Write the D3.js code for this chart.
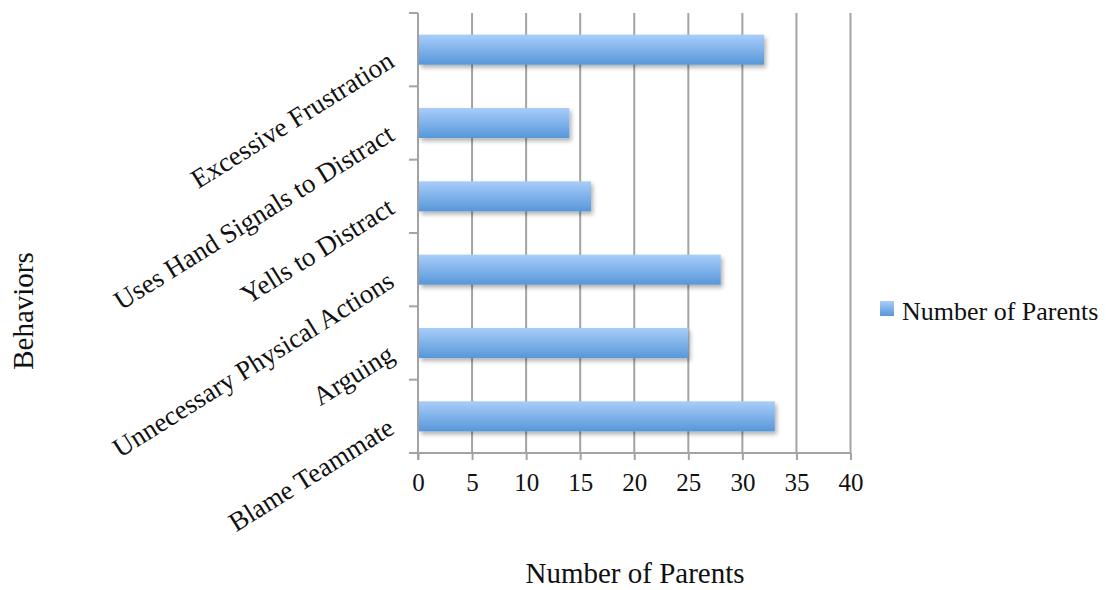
<!DOCTYPE html>
<html>
<head>
<meta charset="utf-8">
<script src="https://cdn.jsdelivr.net/npm/d3@7"></script>
<style>
  html, body { margin: 0; padding: 0; background: #fff; }
  svg { display: block; }
  text { font-family: "Liberation Serif", "Times New Roman", serif; fill: #111; }
</style>
</head>
<body>
<svg id="chart" width="1106" height="590"></svg>
<script>
// Behaviours reported, top to bottom, and how many parents reported each
const categories = [
  "Excessive Frustration",
  "Uses Hand Signals to Distract",
  "Yells to Distract",
  "Unnecessary Physical Actions",
  "Arguing",
  "Blame Teammate"
];
const parents = [32, 14, 16, 28, 25, 33];
const xTicks = [0, 5, 10, 15, 20, 25, 30, 35, 40];
const seriesName = "Number of Parents";
const xTitle = "Number of Parents";
const yTitle = "Behaviors";

const svg = d3.select("#chart");
const plot = { left: 418, right: 850.5, top: 13, bottom: 453 };
const grid = "#a3a3a3";

const x = d3.scaleLinear().domain([0, 40]).range([plot.left, plot.right]);
const y = d3.scaleBand().domain(categories).range([plot.top, plot.bottom])
  .paddingInner(0.59).paddingOuter(0.295);

const defs = svg.append("defs");
const grad = defs.append("linearGradient").attr("id", "barFill")
  .attr("x1", 0).attr("y1", 0).attr("x2", 0).attr("y2", 1);
grad.append("stop").attr("offset", "0%").attr("stop-color", "#a9cdfa");
grad.append("stop").attr("offset", "100%").attr("stop-color", "#5797d9");
const shadow = defs.append("filter").attr("id", "barShadow")
  .attr("x", "-5%").attr("y", "-30%").attr("width", "115%").attr("height", "180%");
shadow.append("feDropShadow").attr("dx", 2).attr("dy", 3).attr("stdDeviation", 2.2)
  .attr("flood-color", "#000").attr("flood-opacity", 0.3);

// vertical gridlines
svg.append("g").selectAll("line").data(xTicks.filter(d => d > 0)).join("line")
  .attr("x1", d => x(d)).attr("x2", d => x(d))
  .attr("y1", plot.top).attr("y2", plot.bottom)
  .attr("stroke", grid).attr("stroke-width", 2);

// x axis: line, ticks below, labels
const xAxis = d3.axisBottom(x).tickValues(xTicks).tickSize(7).tickPadding(13);
const gx = svg.append("g").attr("transform", `translate(0,${plot.bottom})`).call(xAxis);
gx.select(".domain").attr("stroke", grid).attr("stroke-width", 2)
  .attr("d", `M${plot.left},0H${plot.right}`);
gx.selectAll(".tick line").attr("stroke", grid).attr("stroke-width", 2);
gx.selectAll(".tick text").attr("font-size", 25).attr("fill", "#111")
  .attr("font-family", "Liberation Serif, serif");

// y axis: line and category boundary ticks
const bounds = d3.range(categories.length + 1).map(i => plot.top + i * y.step());
svg.append("line").attr("x1", plot.left).attr("x2", plot.left)
  .attr("y1", plot.top).attr("y2", plot.bottom + 7)
  .attr("stroke", grid).attr("stroke-width", 2);
svg.append("g").selectAll("line").data(bounds).join("line")
  .attr("x1", plot.left - 9).attr("x2", plot.left)
  .attr("y1", d => d).attr("y2", d => d)
  .attr("stroke", grid).attr("stroke-width", 2);

// bars
svg.append("g").selectAll("rect").data(categories).join("rect")
  .attr("x", x(0) + 1)
  .attr("y", d => y(d))
  .attr("width", (d, i) => x(parents[i]) - x(0) - 1)
  .attr("height", y.bandwidth())
  .attr("fill", "url(#barFill)")
  .attr("filter", "url(#barShadow)");

// rotated category labels
svg.append("g").selectAll("text").data(categories).join("text")
  .attr("transform", d => `translate(391,${y(d) + y.bandwidth() / 2 + 8}) rotate(-32)`)
  .attr("text-anchor", "end").attr("dy", "0.35em")
  .attr("font-size", 27)
  .text(d => d);

// axis titles
svg.append("text").attr("x", 635).attr("y", 583).attr("text-anchor", "middle")
  .attr("font-size", 29).text(xTitle);
svg.append("text").attr("transform", "translate(33,311) rotate(-90)")
  .attr("text-anchor", "middle").attr("font-size", 29).text(yTitle);

// legend
svg.append("rect").attr("x", 880).attr("y", 301).attr("width", 14).attr("height", 15)
  .attr("fill", "url(#barFill)");
svg.append("text").attr("x", 902).attr("y", 320).attr("font-size", 26).text(seriesName);
</script>
</body>
</html>
